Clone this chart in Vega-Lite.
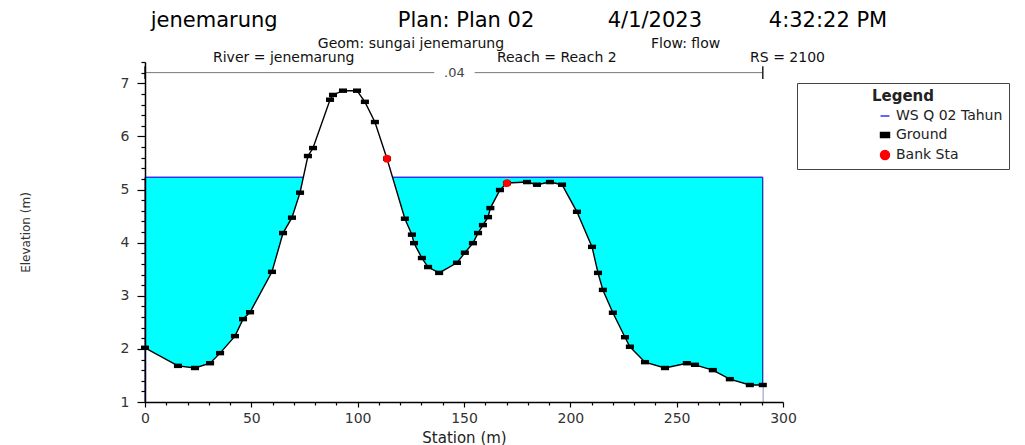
{
  "$schema": "https://vega.github.io/schema/vega-lite/v6.json",
  "width": 638,
  "height": 340,
  "autosize": "none",
  "padding": {"left": 145, "top": 62, "right": 242, "bottom": 43},
  "background": "white",
  "config": {"font": "DejaVu Sans", "view": {"stroke": null}, "axis": {"labelOverlap": false, "labelFlush": false, "grid": false}},
  "resolve": {"axis": {"x": "independent", "y": "independent"}},
  "title": {
    "text": "jenemarung\u00a0\u00a0\u00a0\u00a0\u00a0\u00a0\u00a0\u00a0\u00a0\u00a0\u00a0\u00a0\u00a0\u00a0\u00a0\u00a0\u00a0\u00a0Plan: Plan 02\u00a0\u00a0\u00a0\u00a0\u00a0\u00a0\u00a0\u00a0\u00a0\u00a0\u00a04/1/2023\u00a0\u00a0\u00a0\u00a0\u00a0\u00a0\u00a0\u00a0\u00a0\u00a04:32:22 PM",
    "subtitle": ["\u00a0\u00a0\u00a0\u00a0\u00a0\u00a0\u00a0\u00a0\u00a0\u00a0\u00a0\u00a0Geom: sungai jenemarung\u00a0\u00a0\u00a0\u00a0\u00a0\u00a0\u00a0\u00a0\u00a0\u00a0\u00a0\u00a0\u00a0\u00a0\u00a0\u00a0\u00a0\u00a0\u00a0\u00a0\u00a0\u00a0\u00a0\u00a0\u00a0\u00a0\u00a0\u00a0\u00a0\u00a0\u00a0\u00a0\u00a0Flow: flow", "River = jenemarung\u00a0\u00a0\u00a0\u00a0\u00a0\u00a0\u00a0\u00a0\u00a0\u00a0\u00a0\u00a0\u00a0\u00a0\u00a0\u00a0\u00a0\u00a0\u00a0\u00a0\u00a0\u00a0\u00a0\u00a0\u00a0\u00a0\u00a0\u00a0\u00a0\u00a0\u00a0\u00a0Reach = Reach 2\u00a0\u00a0\u00a0\u00a0\u00a0\u00a0\u00a0\u00a0\u00a0\u00a0\u00a0\u00a0\u00a0\u00a0\u00a0\u00a0\u00a0\u00a0\u00a0\u00a0\u00a0\u00a0\u00a0\u00a0\u00a0\u00a0\u00a0\u00a0\u00a0\u00a0RS = 2100"],
    "anchor": "middle",
    "dx": 55,
    "fontSize": 21,
    "fontWeight": "normal",
    "color": "#000",
    "subtitleFontSize": 14,
    "subtitleColor": "#111",
    "subtitlePadding": 6,
    "subtitleLineHeight": 14,
    "offset": -4
  },
  "datasets": {
    "ground": [
      {"sta": 0, "elev": 2.02, "series": "Ground"},
      {"sta": 15.5, "elev": 1.68, "series": "Ground"},
      {"sta": 23.5, "elev": 1.64, "series": "Ground"},
      {"sta": 30.6, "elev": 1.73, "series": "Ground"},
      {"sta": 35.3, "elev": 1.92, "series": "Ground"},
      {"sta": 42.3, "elev": 2.24, "series": "Ground"},
      {"sta": 46.1, "elev": 2.56, "series": "Ground"},
      {"sta": 49.4, "elev": 2.69, "series": "Ground"},
      {"sta": 59.7, "elev": 3.45, "series": "Ground"},
      {"sta": 64.9, "elev": 4.18, "series": "Ground"},
      {"sta": 69.1, "elev": 4.47, "series": "Ground"},
      {"sta": 72.9, "elev": 4.94, "series": "Ground"},
      {"sta": 76.6, "elev": 5.63, "series": "Ground"},
      {"sta": 79.0, "elev": 5.78, "series": "Ground"},
      {"sta": 87.0, "elev": 6.69, "series": "Ground"},
      {"sta": 88.4, "elev": 6.78, "series": "Ground"},
      {"sta": 93.1, "elev": 6.86, "series": "Ground"},
      {"sta": 99.7, "elev": 6.86, "series": "Ground"},
      {"sta": 103.4, "elev": 6.65, "series": "Ground"},
      {"sta": 108.1, "elev": 6.27, "series": "Ground"},
      {"sta": 113.8, "elev": 5.58, "series": "Ground"},
      {"sta": 122.2, "elev": 4.45, "series": "Ground"},
      {"sta": 125.5, "elev": 4.15, "series": "Ground"},
      {"sta": 126.5, "elev": 3.99, "series": "Ground"},
      {"sta": 130.2, "elev": 3.71, "series": "Ground"},
      {"sta": 133.1, "elev": 3.54, "series": "Ground"},
      {"sta": 138.3, "elev": 3.43, "series": "Ground"},
      {"sta": 146.7, "elev": 3.62, "series": "Ground"},
      {"sta": 150.4, "elev": 3.81, "series": "Ground"},
      {"sta": 154.2, "elev": 3.99, "series": "Ground"},
      {"sta": 156.6, "elev": 4.18, "series": "Ground"},
      {"sta": 158.9, "elev": 4.33, "series": "Ground"},
      {"sta": 161.3, "elev": 4.48, "series": "Ground"},
      {"sta": 162.4, "elev": 4.65, "series": "Ground"},
      {"sta": 166.9, "elev": 4.99, "series": "Ground"},
      {"sta": 170.2, "elev": 5.12, "series": "Ground"},
      {"sta": 179.6, "elev": 5.14, "series": "Ground"},
      {"sta": 184.3, "elev": 5.09, "series": "Ground"},
      {"sta": 190.4, "elev": 5.14, "series": "Ground"},
      {"sta": 196.1, "elev": 5.09, "series": "Ground"},
      {"sta": 203.1, "elev": 4.58, "series": "Ground"},
      {"sta": 210.2, "elev": 3.92, "series": "Ground"},
      {"sta": 213.0, "elev": 3.43, "series": "Ground"},
      {"sta": 215.3, "elev": 3.11, "series": "Ground"},
      {"sta": 220.0, "elev": 2.68, "series": "Ground"},
      {"sta": 225.7, "elev": 2.22, "series": "Ground"},
      {"sta": 228.0, "elev": 2.04, "series": "Ground"},
      {"sta": 235.1, "elev": 1.75, "series": "Ground"},
      {"sta": 244.5, "elev": 1.64, "series": "Ground"},
      {"sta": 254.8, "elev": 1.73, "series": "Ground"},
      {"sta": 258.6, "elev": 1.70, "series": "Ground"},
      {"sta": 267.0, "elev": 1.60, "series": "Ground"},
      {"sta": 275.0, "elev": 1.43, "series": "Ground"},
      {"sta": 284.4, "elev": 1.32, "series": "Ground"},
      {"sta": 290.5, "elev": 1.32, "series": "Ground"}
    ],
    "bank": [
      {"sta": 113.8, "elev": 5.58, "series": "Bank Sta"},
      {"sta": 170.2, "elev": 5.12, "series": "Bank Sta"}
    ],
    "ws": [
      {"sta": 0, "sta2": 290.5, "elev": 5.23, "series": "WS Q 02 Tahun"}
    ],
    "nsegments": [
      {"sta": 0, "sta2": 136},
      {"sta": 155, "sta2": 290.5}
    ],
    "nlabel": [
      {"sta": 145.5, "n": ".04"}
    ],
    "nends": [
      {"sta": 0},
      {"sta": 290.5}
    ]
  },
  "layer": [
    {
      "data": {"name": "ws"},
      "mark": {"type": "rect", "fill": "#00ffff", "stroke": "#000080", "strokeWidth": 1},
      "encoding": {
        "x": {
          "field": "sta", "type": "quantitative",
          "scale": {"domain": [0, 300], "nice": false, "zero": false},
          "axis": {
            "orient": "bottom",
            "title": "Station (m)",
            "titleFontSize": 15,
            "titleFontWeight": "normal",
            "titleColor": "#222",
            "titlePadding": 5,
            "values": [0, 50, 100, 150, 200, 250, 300],
            "labelFontSize": 14,
            "labelColor": "#333",
            "labelPadding": 4,
            "domainColor": "#000",
            "domainWidth": 1.5,
            "tickColor": "#000",
            "tickWidth": 1.2,
            "tickSize": 5,
            "zindex": 1
          }
        },
        "x2": {"field": "sta2"},
        "y": {
          "field": "elev", "type": "quantitative",
          "scale": {"domain": [1, 7.4], "nice": false, "zero": false},
          "axis": {
            "orient": "left",
            "title": "Elevation (m)",
            "titleFontSize": 12,
            "titleFontWeight": "normal",
            "titleColor": "#333",
            "titlePadding": 88,
            "values": [1, 2, 3, 4, 5, 6, 7],
            "labelFontSize": 14,
            "labelColor": "#333",
            "labelPadding": 8,
            "domainColor": "#000",
            "domainWidth": 1.5,
            "tickColor": "#000",
            "tickWidth": 1.2,
            "tickSize": 8,
            "zindex": 1
          }
        },
        "y2": {"datum": 1}
      }
    },
    {
      "data": {"name": "ws"},
      "mark": {"type": "rule", "strokeWidth": 1.2},
      "encoding": {
        "x": {
          "field": "sta", "type": "quantitative",
          "axis": {
            "orient": "bottom",
            "title": null,
            "labels": false,
            "domain": false,
            "values": [10,20,30,40,60,70,80,90,110,120,130,140,160,170,180,190,210,220,230,240,260,270,280,290],
            "tickColor": "#000",
            "tickWidth": 1.2,
            "tickSize": 3,
            "zindex": 1
          }
        },
        "x2": {"field": "sta2"},
        "y": {
          "field": "elev", "type": "quantitative",
          "axis": {
            "orient": "left",
            "title": null,
            "labels": false,
            "domain": false,
            "values": [1.2,1.4,1.6,1.8,2.2,2.4,2.6,2.8,3.2,3.4,3.6,3.8,4.2,4.4,4.6,4.8,5.2,5.4,5.6,5.8,6.2,6.4,6.6,6.8,7.2,7.4],
            "tickColor": "#000",
            "tickWidth": 1.2,
            "tickSize": 4,
            "zindex": 1
          }
        },
        "color": {"field": "series", "type": "nominal"}
      }
    },
    {
      "data": {"name": "ground"},
      "mark": {"type": "area", "fill": "white", "opacity": 1},
      "encoding": {
        "x": {"field": "sta", "type": "quantitative", "axis": null},
        "y": {"field": "elev", "type": "quantitative", "axis": null},
        "y2": {"datum": 1}
      }
    },
    {
      "data": {"name": "ground"},
      "mark": {"type": "line", "color": "#000", "strokeWidth": 1.4},
      "encoding": {
        "x": {"field": "sta", "type": "quantitative", "axis": null},
        "y": {"field": "elev", "type": "quantitative", "axis": null}
      }
    },
    {
      "data": {"name": "ground"},
      "mark": {"type": "point", "filled": true, "opacity": 1, "size": 65},
      "encoding": {
        "x": {"field": "sta", "type": "quantitative", "axis": null},
        "y": {"field": "elev", "type": "quantitative", "axis": null},
        "color": {
          "field": "series", "type": "nominal",
          "scale": {"domain": ["WS Q 02 Tahun", "Ground", "Bank Sta"], "range": ["#3030ff", "#000000", "#ff0000"]},
          "legend": {
            "title": "Legend",
            "orient": "none",
            "legendX": 652,
            "legendY": 21,
            "titleAnchor": "middle",
            "titleFontSize": 15,
            "titleFontWeight": "bold",
            "titleColor": "#222",
            "labelFontSize": 14,
            "labelColor": "#222",
            "strokeColor": "#444",
            "fillColor": "white",
            "padding": 6,
            "symbolOffset": 75,
            "symbolSize": 80,
            "rowPadding": 5
          }
        },
        "shape": {
          "field": "series", "type": "nominal",
          "scale": {"domain": ["WS Q 02 Tahun", "Ground", "Bank Sta"], "range": ["stroke", "M-1,-0.55L1,-0.55L1,0.55L-1,0.55Z", "circle"]},
          "legend": null
        }
      }
    },
    {
      "data": {"name": "bank"},
      "mark": {"type": "point", "filled": true, "opacity": 1, "size": 60},
      "encoding": {
        "x": {"field": "sta", "type": "quantitative", "axis": null},
        "y": {"field": "elev", "type": "quantitative", "axis": null},
        "color": {"field": "series", "type": "nominal"},
        "shape": {"field": "series", "type": "nominal"}
      }
    },
    {
      "data": {"name": "nsegments"},
      "mark": {"type": "rule", "color": "#777", "strokeWidth": 1},
      "encoding": {
        "x": {"field": "sta", "type": "quantitative", "axis": null},
        "x2": {"field": "sta2"},
        "y": {"datum": 7.2, "axis": null}
      }
    },
    {
      "data": {"name": "nends"},
      "mark": {"type": "rule", "color": "#222", "strokeWidth": 1.5},
      "encoding": {
        "x": {"field": "sta", "type": "quantitative", "axis": null},
        "y": {"datum": 7.08, "axis": null},
        "y2": {"datum": 7.32}
      }
    },
    {
      "data": {"name": "nlabel"},
      "mark": {"type": "text", "fontSize": 13, "color": "#444", "baseline": "middle"},
      "encoding": {
        "x": {"field": "sta", "type": "quantitative", "axis": null},
        "y": {"datum": 7.2, "axis": null},
        "text": {"field": "n"}
      }
    }
  ]
}
